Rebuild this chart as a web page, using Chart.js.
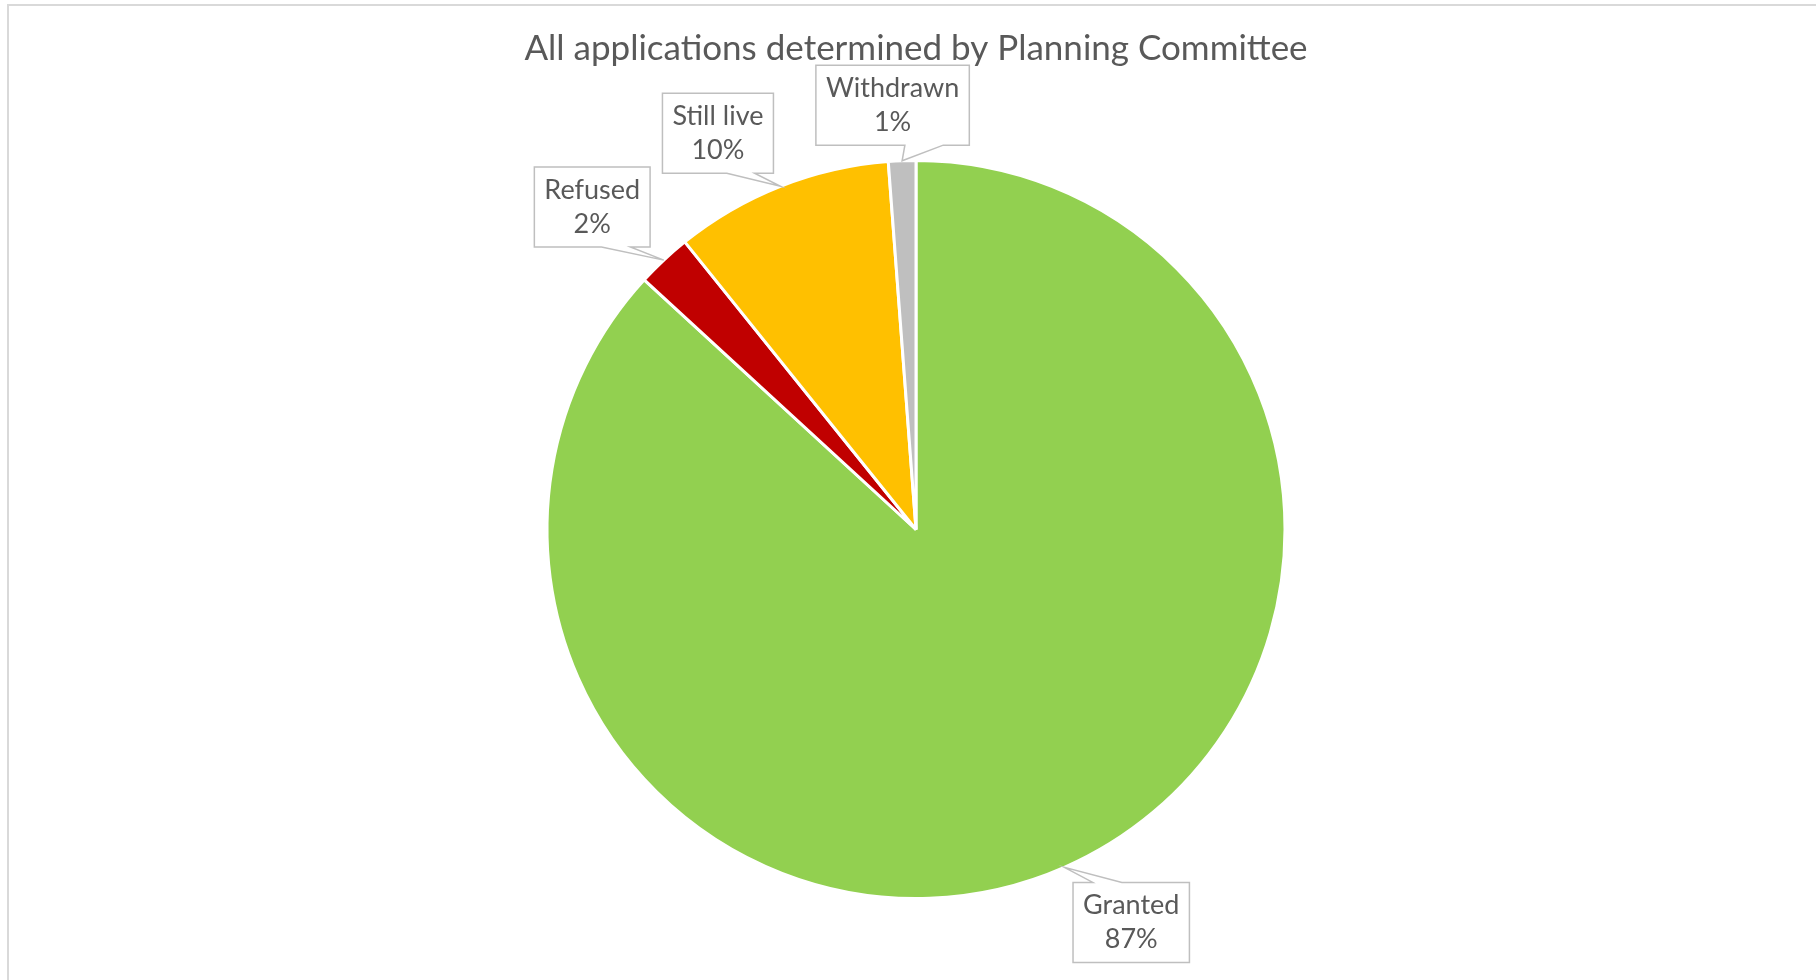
<!DOCTYPE html>
<html>
<head>
<meta charset="utf-8">
<script src="https://cdn.jsdelivr.net/npm/chart.js@4.4.0/dist/chart.umd.min.js"></script>
<style>
  html, body { margin: 0; padding: 0; background: #fff; overflow: hidden; width: 1816px; height: 980px; }
  #frame { position: absolute; left: 7px; top: 4px; width: 1840px; height: 1000px;
           border-left: 2px solid #d9d9d9; border-top: 2px solid #d9d9d9; }
  #wrap { position: absolute; left: 8px; top: 5px; width: 1816px; height: 975px; }
</style>
</head>
<body>
<div id="frame"></div>
<div id="wrap"><canvas id="pie"></canvas></div>
<script>
// data
const categories = ['Granted', 'Refused', 'Still live', 'Withdrawn'];
const counts = [145, 4, 16, 2];
const sliceColors = ['#92D050', '#C00000', '#FFC000', '#BFBFBF'];

const textGrey = '#595959';
const fontFamily = 'Lato, "Open Sans", sans-serif';

// Excel-ish callout labels drawn next to each slice
const calloutPlugin = {
  id: 'callouts',
  afterDatasetsDraw(chart, args, opts) {
    const ctx = chart.ctx;
    const meta = chart.getDatasetMeta(0);
    const total = counts.reduce((a, b) => a + b, 0);
    ctx.save();
    ctx.font = opts.fontSize + 'px ' + fontFamily;
    ctx.textAlign = 'center';
    ctx.textBaseline = 'middle';
    meta.data.forEach((arc, i) => {
      const p = arc.getProps(['x', 'y', 'startAngle', 'endAngle', 'outerRadius'], true);
      const mid = (p.startAngle + p.endAngle) / 2;
      const tipX = p.x + Math.cos(mid) * p.outerRadius;
      const tipY = p.y + Math.sin(mid) * p.outerRadius;
      const ang = mid + (opts.shift[i] || 0) * Math.PI / 180;
      const dist = p.outerRadius + opts.gap[i];
      const cx = p.x + Math.cos(ang) * dist;
      const cy = p.y + Math.sin(ang) * dist;

      const lines = [categories[i], Math.round(counts[i] / total * 100) + '%'];
      const w = Math.max(...lines.map(t => ctx.measureText(t).width)) + opts.padX * 2;
      const h = opts.lineHeight * lines.length + opts.padY * 2;
      const left = cx - w / 2, top = cy - h / 2, right = left + w, bottom = top + h;

      // wedge base sits on the side nearer the tip
      const f = tipX > cx ? [0.58, 0.83] : [0.17, 0.42];
      const b1 = left + w * f[0], b2 = left + w * f[1];

      ctx.beginPath();
      if (tipY > bottom) {
        ctx.moveTo(left, top);
        ctx.lineTo(right, top);
        ctx.lineTo(right, bottom);
        ctx.lineTo(b2, bottom);
        ctx.lineTo(tipX, tipY);
        ctx.lineTo(b1, bottom);
        ctx.lineTo(left, bottom);
      } else {
        ctx.moveTo(left, top);
        ctx.lineTo(b1, top);
        ctx.lineTo(tipX, tipY);
        ctx.lineTo(b2, top);
        ctx.lineTo(right, top);
        ctx.lineTo(right, bottom);
        ctx.lineTo(left, bottom);
      }
      ctx.closePath();
      ctx.fillStyle = '#fff';
      ctx.fill();
      ctx.lineWidth = 1.5;
      ctx.strokeStyle = '#BFBFBF';
      ctx.stroke();

      ctx.fillStyle = textGrey;
      lines.forEach((t, k) => {
        ctx.fillText(t, cx, top + opts.padY + opts.lineHeight * (k + 0.5));
      });
    });
    ctx.restore();
  }
};

new Chart(document.getElementById('pie'), {
  type: 'pie',
  data: {
    labels: categories,
    datasets: [{
      data: counts,
      backgroundColor: sliceColors,
      borderColor: '#ffffff',
      borderWidth: 3
    }]
  },
  options: {
    responsive: true,
    maintainAspectRatio: false,
    animation: false,
    layout: { padding: { top: 0, bottom: 80 } },
    plugins: {
      legend: { display: false },
      tooltip: { enabled: false },
      title: {
        display: true,
        text: 'All applications determined by Planning Committee',
        color: textGrey,
        font: { family: fontFamily, size: 35, weight: 'normal' },
        padding: { top: 23, bottom: 89 }
      },
      callouts: {
        fontSize: 27,
        lineHeight: 34,
        padX: 10,
        padY: 6,
        shift: [-5, -2, -5, -1],
        gap: [79, 88, 74, 56]
      }
    }
  },
  plugins: [calloutPlugin]
});
</script>
</body>
</html>
